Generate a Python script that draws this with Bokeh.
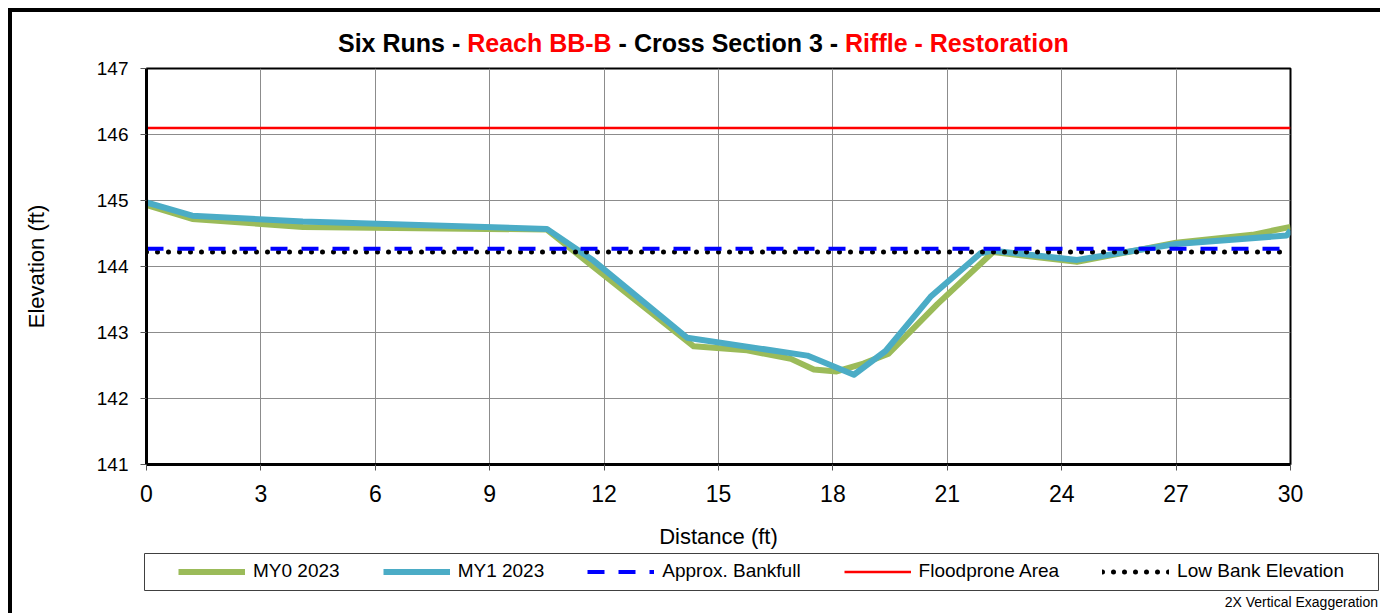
from bokeh.plotting import figure
from bokeh.layouts import column, row
from bokeh.models import Range1d, FixedTicker, Legend, LegendItem, Div
from bokeh.embed import file_html
from bokeh.resources import INLINE

# ---- data ----
my0_x = [0.0, 1.2, 4.1, 10.5, 11.6, 14.35, 15.75, 16.9, 17.5, 18.1, 18.8, 19.46, 20.74, 22.2, 24.4, 27.0, 29.0, 30.0]
my0_y = [144.93, 144.72, 144.60, 144.56, 144.05, 142.79, 142.73, 142.60, 142.44, 142.41, 142.53, 142.68, 143.43, 144.22, 144.07, 144.36, 144.48, 144.60]

my1_x = [0.0, 1.2, 4.1, 10.5, 11.72, 14.18, 17.33, 18.55, 19.38, 20.56, 21.87, 22.2, 24.4, 27.0, 29.9, 30.0]
my1_y = [144.97, 144.77, 144.68, 144.57, 144.09, 142.92, 142.65, 142.36, 142.72, 143.54, 144.20, 144.24, 144.10, 144.34, 144.47, 144.55]

bankfull = 144.27
floodprone = 146.10
low_bank = 144.22

x_lim = [0, 30]
y_lim = [141, 147]
x_ticks = [0, 3, 6, 9, 12, 15, 18, 21, 24, 27, 30]
y_ticks = [141, 142, 143, 144, 145, 146, 147]

title_parts = ["Six Runs - ", "Reach BB-B", " - Cross Section 3 - ", "Riffle - Restoration"]
title_colors = ["#000000", "#FF0000", "#000000", "#FF0000"]
series_names = ["MY0 2023", "MY1 2023", "Approx. Bankfull", "Floodprone Area", "Low Bank Elevation"]
note_text = "2X Vertical Exaggeration"

FONT = "Liberation Sans"
CSS_FONT = "font-family:'Liberation Sans', Arial, sans-serif;"

# series styles (shared by the chart and the legend)
styles = {
    "my0": dict(line_color="#9BBB59", line_width=6, line_join="round"),
    "my1": dict(line_color="#4BACC6", line_width=6, line_join="round"),
    "bf": dict(line_color="#0000FF", line_width=4, line_dash="17 14"),
    "fp": dict(line_color="#FF0000", line_width=2.5),
    "lb": dict(line_color="#000000", line_width=5, line_dash="0 11", line_cap="round"),
}
series_xy = {
    "my0": (my0_x, my0_y),
    "my1": (my1_x, my1_y),
    "bf": (x_lim, [bankfull, bankfull]),
    "fp": (x_lim, [floodprone, floodprone]),
    "lb": (x_lim, [low_bank, low_bank]),
}
legend_order = ["my0", "my1", "bf", "fp", "lb"]
draw_order = ["my0", "my1", "fp", "lb", "bf"]

# ---- title (mixed colours) ----
spans = "".join('<span style="color:%s">%s</span>' % (c, t.replace(" ", "&nbsp;"))
                for t, c in zip(title_parts, title_colors))
title_div = Div(
    text=('<div style="margin-left:338px; padding-top:31px; ' + CSS_FONT +
          ' font-weight:bold; font-size:25px; line-height:24px; white-space:nowrap;">' + spans + '</div>'),
    width=1380, height=55, margin=0)

# ---- main figure ----
p = figure(width=1380, height=498,
           x_range=Range1d(x_lim[0], x_lim[1]), y_range=Range1d(y_lim[0], y_lim[1]),
           output_backend="svg", toolbar_location=None,
           min_border_left=146, min_border_right=90, min_border_top=13, min_border_bottom=89)

p.outline_line_color = "#000000"
p.outline_line_width = 2
p.background_fill_color = "white"
p.border_fill_alpha = 0

p.xgrid.ticker = FixedTicker(ticks=x_ticks)
p.ygrid.ticker = FixedTicker(ticks=y_ticks)
for g in (p.xgrid, p.ygrid):
    g.grid_line_color = "#8C8C8C"
    g.grid_line_width = 1

p.xaxis.ticker = FixedTicker(ticks=x_ticks)
p.yaxis.ticker = FixedTicker(ticks=y_ticks)
for ax in (p.xaxis, p.yaxis):
    ax.axis_line_color = "#000000"
    ax.axis_line_width = 3
    ax.major_tick_line_color = "#555555"
    ax.major_tick_line_width = 1
    ax.major_tick_in = 0
    ax.major_tick_out = 6
    ax.minor_tick_line_color = None
    ax.major_label_text_font = FONT
    ax.major_label_text_color = "#000000"
    ax.axis_label_text_font = FONT
    ax.axis_label_text_font_style = "normal"
    ax.axis_label_text_color = "#000000"
    ax.axis_label_text_font_size = "22px"

p.xaxis.major_label_text_font_size = "23px"
p.xaxis.major_label_standoff = 14
p.xaxis.axis_label = "Distance (ft)"
p.xaxis.axis_label_standoff = 19

p.yaxis.major_label_text_font_size = "19px"
p.yaxis.major_label_standoff = 12
p.yaxis.axis_label = "Elevation (ft)"
p.yaxis.axis_label_standoff = 45

for k in draw_order:
    xs, ys = series_xy[k]
    p.line(xs, ys, **styles[k])

# ---- legend strip (its frame is the legend box; series lie outside its ranges) ----
leg = figure(width=1380, height=40, x_range=Range1d(-2, -1), y_range=Range1d(0, 1),
             x_axis_type=None, y_axis_type=None, output_backend="svg", toolbar_location=None,
             min_border_left=144, min_border_right=2, min_border_top=0, min_border_bottom=3)
leg.grid.visible = False
leg.outline_line_color = "#404040"
leg.outline_line_width = 1
leg.background_fill_color = "white"
leg.border_fill_alpha = 0

items = []
for k, name in zip(legend_order, series_names):
    xs, ys = series_xy[k]
    r = leg.line(xs, ys, **styles[k])
    items.append(LegendItem(label=name, renderers=[r]))

legend = Legend(items=items, orientation="horizontal", location=(34, 8))
legend.border_line_alpha = 0
legend.background_fill_alpha = 0
legend.padding = 0
legend.margin = 0
legend.spacing = 43
legend.glyph_width = 67
legend.glyph_height = 21
legend.label_height = 21
legend.label_standoff = 8
legend.label_text_font = FONT
legend.label_text_font_size = "19px"
legend.label_text_color = "#000000"
leg.add_layout(legend, "center")

note_div = Div(
    text=('<div style="width:1378px; text-align:right; ' + CSS_FONT +
          ' font-size:14px; line-height:16px; padding-top:1px; white-space:nowrap;">' + note_text + '</div>'),
    width=1380, height=20, margin=0)

layout = column(title_div, p, row(leg), note_div, spacing=0, styles={
    "background": ("linear-gradient(#000,#000) 8px 8px / 4px 100% no-repeat, "
                   "linear-gradient(#000,#000) 8px 8px / 100% 4px no-repeat, #ffffff")})

open("out.html", "w").write(file_html(layout, INLINE))
